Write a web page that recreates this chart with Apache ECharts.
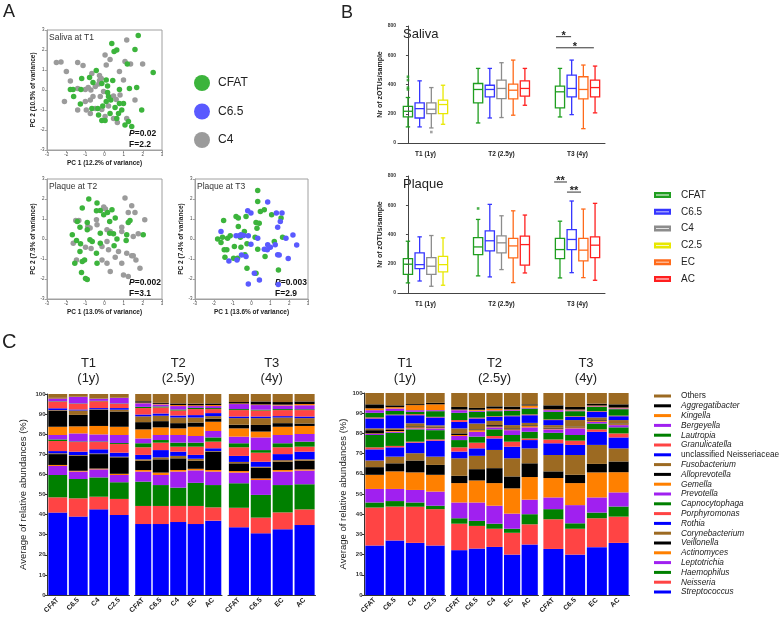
<!DOCTYPE html>
<html><head><meta charset="utf-8"><title>Figure</title>
<script src="https://cdn.jsdelivr.net/npm/echarts/dist/echarts.min.js"></script>
<style>html,body{margin:0;padding:0;background:#fff;}#chart{width:780px;height:623px;}</style>
</head><body><div id="chart"></div>
<script>
const FONT = '"Liberation Sans", Arial, Helvetica, sans-serif';

// ---------------- Panel A : PCA scatter data ----------------
const pcX = ['PC 1 (12.2% of variance)', 'PC 1 (13.0% of variance)', 'PC 1 (13.6% of variance)'];
const pcY = ['PC 2 (10.5% of variance)', 'PC 2 (7.9% of variance)', 'PC 2 (7.4% of variance)'];
const scatterTitles = ['Saliva at T1', 'Plaque at T2', 'Plaque at T3'];
const scatterP = ['0.02', '0.002', '0.003'];
const scatterF = ['2.2', '3.1', '2.9'];

const salivaT1_CFAT = [[1.76,2.72],[0.38,2.33],[1.59,2.03],[0.64,2.0],[0.5,1.92],[1.19,1.3],[2.54,0.87],[-0.43,0.97],[-0.78,0.63],[-1.19,0.57],[0.09,0.5],[0.43,0.47],[-0.6,0.37],[-0.14,0.33],[0.16,0.2],[-1.64,0.03],[-1.23,0.03],[0.78,0.03],[1.3,0.08],[1.68,0.13],[-1.61,-0.33],[0.16,-0.13],[0.21,-0.33],[0.33,-0.5],[0.09,-0.58],[-0.09,-0.8],[-1.26,-0.7],[0.55,-0.87],[0.99,-0.67],[0.78,-0.67],[-0.66,-0.92],[-0.35,-0.92],[0.9,-1.0],[1.94,-1.0],[-0.31,-1.25],[0.29,-1.17],[0.73,-1.17],[0.64,-1.42],[-0.14,-1.53],[0.03,-1.53],[1.07,-1.75],[1.25,-1.58],[1.42,-1.83],[-1.78,0.03]];
const salivaT1_C4 = [[-2.51,1.37],[-2.27,1.4],[-1.99,0.92],[-1.4,1.37],[-1.12,1.23],[-1.78,0.45],[-1.4,0.08],[-1.0,0.03],[-2.09,-0.58],[-1.4,-1.0],[-1.0,-0.58],[-0.74,-0.5],[-0.71,0.0],[-0.66,0.83],[-0.26,0.47],[-0.17,0.57],[-0.26,0.73],[0.09,1.25],[0.03,1.75],[0.29,1.53],[1.16,2.5],[1.07,1.42],[1.36,1.3],[1.99,1.3],[0.78,0.92],[0.99,0.5],[-0.48,0.17],[-0.6,-0.33],[-0.22,-0.33],[-0.05,-0.08],[0.47,-0.3],[0.61,-0.47],[0.81,-0.25],[1.59,-0.5],[0.21,-0.8],[-0.48,-0.92],[-0.14,-0.97],[0.03,-1.33],[0.47,-1.42],[0.67,-1.63],[1.16,-1.42],[-0.95,-1.0],[-0.74,-1.17],[-0.3,0.3],[-0.85,0.12]];
const plaqueT2_CFAT = [[-0.82,2.0],[-1.16,1.55],[-0.39,1.8],[-0.22,1.43],[0.16,1.33],[0.39,1.46],[-0.42,1.41],[-0.04,1.21],[0.56,1.05],[0.27,0.88],[1.33,0.93],[1.24,0.83],[-1.42,0.88],[-0.9,0.83],[-1.28,0.59],[-0.9,0.46],[-0.22,0.29],[-1.68,0.21],[-1.46,-0.08],[-1.25,-0.24],[-0.76,-0.04],[-0.64,-0.13],[0.27,0.29],[0.47,0.26],[0.65,0.0],[1.16,0.21],[1.13,-0.08],[2.02,0.21],[0.5,-0.34],[-0.22,-0.21],[-0.42,-0.71],[-1.28,-0.63],[-1.55,-1.21],[-1.16,-1.13],[-1.04,-1.05],[-0.39,-1.21],[-1.2,-1.68],[-0.9,-2.02],[-0.99,-1.97]];
const plaqueT2_C4 = [[1.07,2.05],[1.42,1.66],[1.24,1.33],[1.59,1.33],[-0.04,1.6],[2.1,0.96],[-1.5,0.93],[-1.34,0.93],[-0.87,0.63],[-0.39,0.71],[-0.42,0.96],[0.13,0.46],[0.3,0.38],[0.9,0.59],[0.9,0.38],[1.76,0.26],[1.5,0.13],[-1.63,-0.21],[-0.99,-0.41],[-0.7,-0.48],[-0.13,-0.38],[0.13,-0.13],[0.21,-0.54],[0.73,-0.63],[1.16,-0.71],[1.42,-0.84],[1.5,-0.84],[0.56,-0.91],[0.9,-1.21],[1.64,-1.05],[-1.46,-1.05],[-0.13,-1.05],[0.13,-1.21],[0.3,-1.63],[0.99,-1.8],[1.24,-1.88],[1.85,-1.46],[0.05,1.5],[-0.75,0.55]];
const plaqueT3_CFAT = [[0.33,2.43],[0.33,1.88],[0.47,1.38],[0.68,1.46],[-0.82,1.13],[-0.7,1.05],[-1.48,0.93],[-0.29,1.13],[0.24,0.83],[0.41,0.79],[-0.38,0.38],[-0.7,0.63],[0.29,0.54],[1.07,1.21],[1.57,1.05],[-1.8,0.0],[-1.54,0.09],[-1.27,0.04],[-1.13,0.16],[-1.62,-0.18],[-1.45,-0.54],[-1.31,-0.54],[-0.91,-0.38],[-0.59,0.09],[-0.56,-0.41],[-0.24,-0.24],[0.19,0.09],[0.33,-0.51],[1.21,-0.13],[1.65,0.09],[-1.41,-0.91],[-0.95,-0.96],[-0.74,-0.96],[-0.35,-0.79],[-0.24,-1.46],[0.72,-0.88],[1.43,-1.55],[0.24,-1.71]];
const plaqueT3_C65 = [[-1.62,0.38],[-0.2,1.41],[-0.03,1.3],[0.86,1.85],[1.32,1.3],[1.62,1.3],[1.53,0.88],[1.83,0.04],[1.39,0.59],[-0.82,0.16],[-0.65,0.16],[-0.17,0.16],[-0.56,0.21],[-0.03,-0.26],[0.33,0.04],[0.86,-0.29],[1.0,-0.41],[0.68,-0.51],[1.26,-0.29],[-1.2,-1.1],[-0.29,-0.88],[-0.77,-1.05],[0.15,-1.71],[-0.17,-2.25],[0.42,-2.05],[1.39,-0.79],[1.47,-0.8],[1.95,-0.97],[1.42,-2.27],[0.84,-0.54],[-0.53,-0.8],[-0.42,0.17],[2.4,-0.3],[2.2,0.2]];

// ---------------- Panel B : boxplots [min, q1, median, q3, max] ----------------
const boxGroups = ['T1 (1y)', 'T2 (2.5y)', 'T3 (4y)'];
const boxMembers = [['CFAT','C6.5','C4','C2.5'], ['CFAT','C6.5','C4','EC','AC'], ['CFAT','C6.5','EC','AC']];
const salivaBoxT1 = [[110,178,217,251,311],[110,171,235,274,425],[103,201,231,274,379],[128,201,263,293,395]];
const salivaBoxT2 = [[137,274,366,407,510],[171,315,366,395,510],[174,304,373,430,549],[190,302,361,402,567],[258,320,373,425,510]];
const salivaBoxT3 = [[178,240,350,389,510],[194,315,373,464,567],[98,302,366,453,533],[206,315,379,430,526]];
const plaqueBoxT1 = [[69,128,197,235,354],[82,167,194,274,384],[46,128,183,242,393],[53,144,194,251,377]];
const plaqueBoxT2 = [[117,263,315,379,503],[110,288,357,425,606],[160,274,343,391,528],[71,240,322,373,562],[137,190,331,389,533]];
const plaqueBoxT3 = [[103,235,297,373,491],[139,297,366,434,629],[105,219,293,373,574],[87,242,327,384,613]];
const salivaOutliers = [[0,'CFAT',[453,430,379,366]],[0,'C4',[75]]];
const plaqueOutliers = [[1,'CFAT',[578]]];
const salivaSig = [[12.66,13.95,727],[12.66,15.9,651]];
const salivaSigLabels = ['*','*'];
const plaqueSig = [[12.5,13.6,759],[13.6,14.8,690]];
const plaqueSigLabels = ['**','**'];

// ---------------- Panel C : stacked relative abundances (%) ----------------
const taxa = ['Streptococcus','Neisseria','Haemophilus','Leptotrichia','Actinomyces','Veillonella','Corynebacterium','Rothia','Porphyromonas','Capnocytophaga','Prevotella','Gemella','Alloprevotella','Fusobacterium','unclassified Neisseriaceae','Granulicatella','Lautropia','Bergeyella','Kingella','Aggregatibacter','Others'];
const barGroupTitles = ['T1\n(1y)', 'T2\n(2.5y)', 'T3\n(4y)'];
const barGroupCats = [['CFAT','C6.5','C4','C2.5'], ['CFAT','C6.5','C4','EC','AC'], ['CFAT','C6.5','EC','AC']];

const salT1_CFAT = [41.0,7.6,11.1,4.5,0.5,5.4,0.4,1.1,5.0,0.8,2.2,4.1,8.0,0.3,0.9,3.3,0.2,1.3,0.2,0.2,1.9];
const salT1_C65  = [39.0,9.1,9.6,3.7,0.4,7.4,0.4,1.7,4.8,0.3,4.0,3.5,5.7,2.2,0.5,2.8,0.2,3.2,0.1,0.1,1.3];
const salT1_C4   = [42.6,6.3,9.6,4.0,0.4,7.2,0.3,2.1,3.6,0.3,3.5,4.2,8.1,0.2,0.6,3.4,0.2,1.0,0.1,0.1,2.2];
const salT1_C25  = [39.8,8.0,8.3,3.6,0.6,8.2,0.3,2.0,4.3,0.5,4.0,4.1,7.6,0.9,0.8,2.1,0.2,2.7,0.1,0.1,1.8];
const salT2_CFAT = [35.3,9.0,12.1,5.0,0.8,4.6,0.7,2.2,3.8,2.0,2.4,4.5,3.6,2.9,0.9,3.2,0.6,1.8,0.3,0.7,3.6];
const salT2_C65  = [35.3,9.0,10.4,5.0,1.2,6.6,1.0,3.6,3.7,1.3,2.5,3.8,3.1,2.7,1.1,3.0,0.5,1.0,0.3,0.5,4.4];
const salT2_C4   = [36.3,8.0,9.1,8.0,0.8,5.8,1.2,2.1,2.5,2.0,3.8,3.3,2.6,2.8,1.0,2.5,0.5,1.7,0.5,0.8,4.7];
const salT2_EC   = [35.3,9.0,11.5,6.2,0.8,4.0,1.0,1.9,4.1,2.0,3.3,4.6,2.1,2.5,1.2,3.0,0.6,0.9,0.4,0.8,4.8];
const salT2_AC   = [37.0,6.6,11.1,6.7,0.8,9.1,0.3,1.4,3.3,2.1,3.2,4.6,1.6,1.2,1.5,2.0,0.5,1.0,0.5,0.8,4.7];
const salT3_CFAT = [33.7,9.7,12.2,5.3,0.8,3.8,0.7,3.0,4.3,2.0,3.3,4.1,1.8,3.3,0.8,3.2,0.5,2.5,0.3,0.7,4.0];
const salT3_C65  = [30.7,7.8,11.3,7.4,0.8,5.3,0.5,2.5,4.5,1.3,6.3,2.9,3.3,3.4,0.8,3.0,0.4,2.3,0.3,1.5,3.7];
const salT3_EC   = [32.7,8.4,13.6,6.7,0.8,4.1,0.8,3.0,3.4,2.0,4.1,4.1,1.8,2.8,0.7,3.0,0.5,1.8,0.4,1.3,4.0];
const salT3_AC   = [34.8,7.8,12.5,6.8,0.6,4.3,0.7,3.8,2.5,2.5,3.8,4.0,1.2,2.7,0.8,3.2,0.4,2.0,0.6,1.3,3.7];

const plqT1_CFAT = [24.5,18.8,2.5,6.7,7.0,3.8,3.3,5.5,1.0,6.1,0.5,0.3,1.6,0.9,4.9,0.5,2.3,1.3,0.9,2.0,5.6];
const plqT1_C65  = [27.0,16.8,2.7,6.0,8.7,4.0,3.3,4.6,0.7,6.5,0.5,0.4,0.5,0.8,6.5,0.3,1.8,1.2,0.7,0.9,6.1];
const plqT1_C4   = [25.8,17.9,2.1,6.2,8.7,5.9,3.6,5.2,0.5,6.1,0.5,0.5,0.5,1.5,4.0,0.5,1.2,0.8,2.5,0.5,5.5];
const plqT1_C25  = [24.5,18.0,1.7,7.0,8.3,4.9,4.1,7.9,0.6,4.6,0.9,0.4,0.4,0.7,3.9,0.3,2.8,0.5,2.9,0.7,4.9];
const plqT2_CFAT = [22.2,13.1,2.7,7.8,9.6,3.6,8.7,3.3,2.1,3.6,2.0,0.5,0.8,2.5,3.2,0.9,3.6,1.3,0.3,1.3,6.9];
const plqT2_C65  = [23.0,11.2,2.5,9.1,10.9,5.6,6.6,3.7,2.8,3.0,2.4,0.8,0.4,2.9,2.5,0.4,2.9,0.5,0.5,0.9,7.4];
const plqT2_C4   = [23.8,9.0,2.5,8.9,11.2,7.4,9.0,5.7,1.2,3.3,1.0,0.4,0.7,2.1,2.0,0.3,2.5,0.4,0.9,1.1,6.6];
const plqT2_EC   = [20.0,10.8,2.0,7.5,12.5,5.9,9.0,5.7,2.5,3.3,2.4,0.4,0.5,1.6,4.4,0.3,2.3,0.4,0.4,1.4,6.7];
const plqT2_AC   = [25.0,10.0,5.0,7.2,11.2,6.8,7.4,4.1,0.8,3.3,2.2,0.6,0.4,1.2,3.8,0.4,2.9,0.4,1.1,0.6,5.6];
const plqT3_CFAT = [22.8,14.7,5.0,5.8,9.6,3.3,8.1,5.8,1.9,3.3,1.7,0.4,0.4,1.3,2.5,0.3,3.8,0.8,0.4,2.0,6.1];
const plqT3_C65  = [20.0,12.8,2.7,9.0,10.9,4.1,9.8,5.0,2.1,2.8,3.3,0.5,0.4,3.2,1.6,0.3,2.5,0.4,0.4,1.3,6.9];
const plqT3_EC   = [23.7,14.3,2.8,7.5,12.4,4.2,9.4,6.5,1.2,2.9,0.8,0.4,0.4,1.4,2.8,0.3,2.1,0.3,0.4,0.9,5.3];
const plqT3_AC   = [25.8,13.0,5.0,7.0,10.0,5.3,6.5,5.4,2.0,3.0,1.1,0.4,0.4,1.7,1.9,0.3,3.2,0.4,0.4,1.6,5.6];

const salivaBars = [[salT1_CFAT,salT1_C65,salT1_C4,salT1_C25],[salT2_CFAT,salT2_C65,salT2_C4,salT2_EC,salT2_AC],[salT3_CFAT,salT3_C65,salT3_EC,salT3_AC]];
const plaqueBars = [[plqT1_CFAT,plqT1_C65,plqT1_C4,plqT1_C25],[plqT2_CFAT,plqT2_C65,plqT2_C4,plqT2_EC,plqT2_AC],[plqT3_CFAT,plqT3_C65,plqT3_EC,plqT3_AC]];

// ---------------- styles ----------------
const scatterColors = {'CFAT':'#3cb43c','C6.5':'#5a5aff','C4':'#9b9b9b'};
const boxColors = {'CFAT':'#1f9e1f','C6.5':'#3535ff','C4':'#8c8c8c','C2.5':'#e8e800','EC':'#ff6a1a','AC':'#ff1f1f'};
const taxaPalette = ['#0000ff','#ff4444','#008000','#a020f0','#ff8000','#000000','#9c6a22'];

const grids = [], xAxes = [], yAxes = [], series = [], graphics = [];
function txt(x, y, text, extra) {
  return {type:'text', x:x, y:y, silent:true, style:Object.assign({text:text, fontFamily:FONT, fill:'#222', fontSize:10}, extra||{})};
}

// ---------------- Panel A build ----------------
const scatterLayout = [
  {left:47, top:30, width:115, height:120},
  {left:47, top:179, width:115, height:120},
  {left:195, top:179, width:113, height:120}
];
const scatterSets = [
  [['C4', salivaT1_C4], ['CFAT', salivaT1_CFAT]],
  [['C4', plaqueT2_C4], ['CFAT', plaqueT2_CFAT]],
  [['CFAT', plaqueT3_CFAT], ['C6.5', plaqueT3_C65]]
];
scatterLayout.forEach((g, i) => {
  grids.push(Object.assign({show:true, borderColor:'#a0a0a0', borderWidth:1}, g));
  const axisCommon = {type:'value', min:-3, max:3, interval:1, nameLocation:'middle',
    nameTextStyle:{fontSize:6.5, fontWeight:'bold', color:'#222'},
    axisLine:{onZero:false, lineStyle:{color:'#a0a0a0'}}, axisTick:{length:2, lineStyle:{color:'#a0a0a0'}},
    axisLabel:{fontSize:4.5, color:'#444', margin:2.5}, splitLine:{show:false}};
  xAxes.push(Object.assign({gridIndex:i, name:pcX[i], nameGap:10}, axisCommon));
  yAxes.push(Object.assign({gridIndex:i, name:pcY[i], nameGap:5}, axisCommon));
  scatterSets[i].forEach(([nm, pts]) => series.push({type:'scatter', name:nm, xAxisIndex:i, yAxisIndex:i, data:pts,
    symbolSize:5.5, itemStyle:{color:scatterColors[nm], opacity:1}, silent:true}));
  graphics.push(txt(g.left + 2, g.top + 3, scatterTitles[i], {fontSize:8.5, fill:'#333'}));
  graphics.push(txt(g.left + g.width - 33, g.top + g.height - 21.5, '{i|P}=' + scatterP[i] + '\nF=' + scatterF[i],
    {fontSize:8.5, fontWeight:'bold', lineHeight:10.5, fill:'#111',
     rich:{i:{fontStyle:'italic', fontWeight:'bold', fontSize:8.5, fontFamily:FONT, fill:'#111'}}}));
});

// ---------------- Panel B build ----------------
function boxRender(params, api) {
  const x = api.value(0);
  const p = [1,2,3,4,5].map(d => api.coord([x, api.value(d)]));
  const cx = p[0][0], hw = 4.6, cw = 2.2;
  const col = api.visual('color');
  const st = () => ({stroke:col, lineWidth:1.3, fill:'none'});
  const L = (x1,y1,x2,y2) => ({type:'line', shape:{x1:x1,y1:y1,x2:x2,y2:y2}, style:st()});
  return {type:'group', children:[
    L(cx,p[0][1],cx,p[1][1]), L(cx,p[3][1],cx,p[4][1]),
    L(cx-cw,p[0][1],cx+cw,p[0][1]), L(cx-cw,p[4][1],cx+cw,p[4][1]),
    {type:'rect', shape:{x:cx-hw, y:p[3][1], width:2*hw, height:p[1][1]-p[3][1]}, style:st()},
    L(cx-hw,p[2][1],cx+hw,p[2][1])
  ]};
}
const treatments = ['CFAT','C6.5','C4','C2.5','EC','AC'];
function addBoxPanel(ax, layout, title, boxes, outliers, sig, sigLabels) {
  grids.push(layout);
  xAxes.push({gridIndex:ax, type:'value', min:-0.85, max:16.85, axisLine:{onZero:false, lineStyle:{color:'#444'}},
    axisTick:{show:false}, axisLabel:{show:false}, splitLine:{show:false}});
  yAxes.push({gridIndex:ax, type:'value', min:0, max:800, interval:200, name:'Nr of zOTUs/sample', nameLocation:'middle', nameGap:12.5,
    nameTextStyle:{fontSize:7, fontWeight:'bold', color:'#222'}, axisLine:{show:true, lineStyle:{color:'#444'}},
    axisTick:{show:true, length:2, lineStyle:{color:'#444'}}, axisLabel:{fontSize:5, color:'#333', margin:2, fontWeight:'bold'}, splitLine:{show:false}});
  const starts = []; let s = 0;
  boxMembers.forEach(m => { starts.push(s); s += m.length + 2; });
  treatments.forEach(t => {
    const data = [];
    boxMembers.forEach((m, g) => { const j = m.indexOf(t); if (j >= 0) data.push([starts[g] + j].concat(boxes[g][j])); });
    series.push({type:'custom', name:t, xAxisIndex:ax, yAxisIndex:ax, renderItem:boxRender, itemStyle:{color:boxColors[t]},
      encode:{x:0, y:[1,2,3,4,5]}, data:data, silent:true});
  });
  outliers.forEach(([g, t, vals]) => {
    const xp = starts[g] + boxMembers[g].indexOf(t);
    series.push({type:'scatter', xAxisIndex:ax, yAxisIndex:ax, data:vals.map(v => [xp, v]), symbol:'rect', symbolSize:2.6,
      itemStyle:{color:boxColors[t]}, silent:true});
  });
  series.push({type:'custom', xAxisIndex:ax, yAxisIndex:ax, silent:true, encode:{x:0, y:1},
    data:boxMembers.map((m, g) => [starts[g] + (m.length - 1) / 2, 0]),
    renderItem:(params, api) => { const c = api.coord([api.value(0), 0]);
      return {type:'text', x:c[0], y:c[1] + 11, style:{text:boxGroups[params.dataIndex], align:'center', verticalAlign:'middle',
        fontSize:6.5, fontWeight:'bold', fill:'#222', fontFamily:FONT}}; }});
  series.push({type:'custom', xAxisIndex:ax, yAxisIndex:ax, silent:true, encode:{x:[0,1], y:2}, data:sig,
    renderItem:(params, api) => { const a = api.coord([api.value(0), api.value(2)]), b = api.coord([api.value(1), api.value(2)]);
      return {type:'group', children:[
        {type:'line', shape:{x1:a[0], y1:a[1], x2:b[0], y2:b[1]}, style:{stroke:'#333', lineWidth:1}},
        {type:'text', x:(a[0] + b[0]) / 2, y:a[1] + 4.5, style:{text:sigLabels[params.dataIndex], align:'center', verticalAlign:'bottom',
          fontSize:11, fontWeight:'bold', fill:'#222', fontFamily:FONT}}]}; }});
  graphics.push(txt(layout.left + 5, layout.top + 2, title, {fontSize:13, fill:'#222'}));
}
addBoxPanel(3, {left:398, top:26, width:207, height:117}, 'Saliva', [salivaBoxT1, salivaBoxT2, salivaBoxT3], salivaOutliers, salivaSig, salivaSigLabels);
addBoxPanel(4, {left:398, top:176, width:207, height:117}, 'Plaque', [plaqueBoxT1, plaqueBoxT2, plaqueBoxT3], plaqueOutliers, plaqueSig, plaqueSigLabels);

// ---------------- Panel C build ----------------
const barLayouts = [
  [{left:47.5, top:394, width:82, height:201}, {left:134.5, top:394, width:87.5, height:201}, {left:228, top:394, width:87.5, height:201}],
  [{left:364.5, top:393, width:81, height:202}, {left:450.5, top:393, width:88, height:202}, {left:542.5, top:393, width:87, height:202}]
];
const yNameGaps = [19, 15];
[salivaBars, plaqueBars].forEach((chartBars, c) => {
  chartBars.forEach((bars, g) => {
    const idx = 5 + c * 3 + g;
    const lay = barLayouts[c][g];
    grids.push(lay);
    xAxes.push({gridIndex:idx, type:'category', data:barGroupCats[g], axisLine:{lineStyle:{color:'#333'}},
      axisTick:{alignWithLabel:true, length:3, lineStyle:{color:'#333'}},
      axisLabel:{rotate:45, fontSize:7, fontWeight:'bold', interval:0, margin:4, color:'#222'}});
    if (g === 0) {
      yAxes.push({gridIndex:idx, type:'value', min:0, max:100, interval:10, name:'Average of relative abundances (%)',
        nameLocation:'middle', nameGap:yNameGaps[c], nameTextStyle:{fontSize:9.5, color:'#222'},
        axisLine:{show:true, lineStyle:{color:'#333'}}, axisTick:{show:true, length:2.5, lineStyle:{color:'#333'}},
        axisLabel:{fontSize:6, fontWeight:'bold', color:'#333', margin:2}, splitLine:{show:false}});
    } else {
      yAxes.push({gridIndex:idx, type:'value', min:0, max:100, show:false, splitLine:{show:false}});
    }
    taxa.forEach((t, k) => {
      series.push({type:'bar', name:t, xAxisIndex:idx, yAxisIndex:idx, stack:'s' + idx, barCategoryGap:'8%',
        data:bars.map(b => b[k]), itemStyle:{color:taxaPalette[k % 7]}, silent:true});
    });
    graphics.push(txt(lay.left + lay.width / 2, 355.5, barGroupTitles[g], {fontSize:13, lineHeight:15, align:'center', verticalAlign:'top'}));
  });
});

graphics.push(txt(3, 3, 'A', {fontSize:18}));
graphics.push(txt(341, 4, 'B', {fontSize:18}));
graphics.push(txt(2, 332, 'C', {fontSize:20}));

const boxIcon = 'path://M0,0L17,0L17,6L0,6Z M2,2.6L2,3.4L15,3.4L15,2.6Z';
const option = {
  animation:false,
  backgroundColor:'#fff',
  textStyle:{fontFamily:FONT},
  grid:grids, xAxis:xAxes, yAxis:yAxes, series:series,
  graphic:{elements:graphics},
  legend:[
    {left:194, top:75, padding:0, orient:'vertical', itemWidth:16, itemHeight:16, itemGap:12.5, icon:'circle', selectedMode:false,
      data:['CFAT','C6.5','C4'].map(n => ({name:n, itemStyle:{color:scatterColors[n]}})),
      textStyle:{fontSize:12, color:'#222', padding:[0,0,0,3]}},
    {left:654, top:189, padding:0, orient:'vertical', itemWidth:17, itemHeight:6, itemGap:4.8, icon:boxIcon, selectedMode:false,
      data:treatments.map(n => ({name:n, itemStyle:{color:boxColors[n]}})),
      textStyle:{fontSize:10, lineHeight:12, color:'#222', padding:[0,0,0,5]}},
    {left:654, top:391.5, padding:0, orient:'vertical', itemWidth:17, itemHeight:3, itemGap:0.8, icon:'rect', selectedMode:false,
      data:taxa.slice().reverse().map((n) => ({name:n,
        textStyle:{fontStyle:(n === 'Others' || n === 'unclassified Neisseriaceae') ? 'normal' : 'italic'}})),
      textStyle:{fontSize:8.3, lineHeight:9, color:'#222', padding:[0,0,0,5]}}
  ]
};
const chart = echarts.init(document.getElementById('chart'), null, {renderer:'canvas'});
chart.setOption(option);
</script></body></html>
